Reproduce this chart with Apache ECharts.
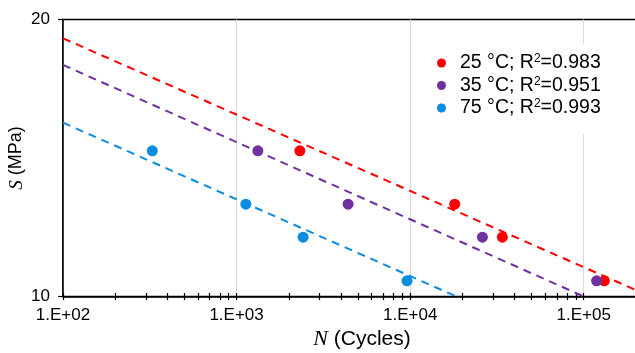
<!DOCTYPE html>
<html>
<head>
<meta charset="utf-8">
<script src="https://cdn.jsdelivr.net/npm/echarts@6/dist/echarts.min.js"></script>
<style>
  html, body { margin: 0; padding: 0; background: #fff; }
  #main { width: 635px; height: 353px; }
</style>
</head>
<body>
<div id="main"></div>
<script>
// series names
const names = ['25 °C; R²=0.983', '35 °C; R²=0.951', '75 °C; R²=0.993'];
const colors = ['#FF0000', '#7030A0', '#0A8CE0'];

// measured points: N (cycles), S (MPa)
const n25 = [2314, 18060, 33970, 131400];
const s25 = [14.4, 12.6, 11.6, 10.4];
const n35 = [1326, 4390, 26080, 118600];
const s35 = [14.4, 12.6, 11.6, 10.4];
const n75 = [327, 1131, 2417, 9594];
const s75 = [14.4, 12.6, 11.6, 10.4];

// power-law trend lines, endpoints [N, S]
const trend25 = [[100, 19.08], [200000, 10.16]];
const trend35 = [[100, 17.85], [100000, 10]];
const trend75 = [[100, 15.45], [18470, 10]];

// axis ticks
const xMajor = [100, 1000, 10000, 100000];
const xMinor = [100, 200, 300, 400, 500, 600, 700, 800, 900,
  1000, 2000, 3000, 4000, 5000, 6000, 7000, 8000, 9000,
  10000, 20000, 30000, 40000, 50000, 60000, 70000, 80000, 90000,
  100000, 200000];
const yTicks = [10, 20];

const pts = (n, s) => n.map((v, i) => [v, s[i]]);
const scatterData = [pts(n25, s25), pts(n35, s35), pts(n75, s75)];
const trends = [trend25, trend35, trend75];

const font = 'Liberation Sans, Arial, sans-serif';
const serif = 'Liberation Serif, Times New Roman, serif';
const chart = echarts.init(document.getElementById('main'));

const xBase = {
  type: 'log',
  logBase: 10,
  min: 100,
  max: 200000,
  position: 'bottom'
};
// extra axes only carry the crossing minor ticks
const tickAxis = inside => Object.assign({}, xBase, {
  axisLine: { show: false },
  axisTick: { inside: inside, customValues: xMinor, length: 3.5, lineStyle: { color: '#000', width: 1.2 } },
  axisLabel: { show: false },
  splitLine: { show: false }
});

chart.setOption({
  animation: false,
  grid: {
    left: 63, top: 19.5, width: 573, height: 277,
    outerBoundsMode: 'none',
    containLabel: false,
    show: true, borderColor: '#000', borderWidth: 1.5
  },
  legend: {
    data: names,
    orient: 'vertical',
    left: 427,
    top: 44,
    padding: [9, 10, 16, 10],
    backgroundColor: '#fff',
    icon: 'circle',
    itemWidth: 9,
    itemHeight: 9,
    itemGap: 2.5,
    formatter: name => name.replace('R²', 'R{sup|2}'),
    textStyle: {
      fontFamily: font, fontSize: 19.5, lineHeight: 20, color: '#000', padding: [0, 0, 0, 9],
      rich: { sup: { fontFamily: font, fontSize: 12, lineHeight: 12, color: '#000', padding: [0, 0, 8, 0] } }
    }
  },
  xAxis: [
    Object.assign({}, xBase, {
      name: '{i|N} (Cycles)',
      nameLocation: 'middle',
      nameGap: 30,
      nameTextStyle: {
        fontFamily: font, fontSize: 21, color: '#000', padding: [0, 0, 0, 25],
        rich: { i: { fontFamily: serif, fontStyle: 'italic', fontSize: 22, color: '#000' } }
      },
      axisLine: { lineStyle: { color: '#000', width: 1.5 } },
      axisTick: { show: false },
      axisLabel: {
        customValues: xMajor,
        margin: 10,
        fontFamily: font, fontSize: 17, color: '#000',
        formatter: v => '1.E+0' + Math.round(Math.log10(v))
      },
      splitLine: { show: true, lineStyle: { color: '#D9D9D9', width: 1 } }
    }),
    tickAxis(true),
    tickAxis(false)
  ],
  yAxis: {
    type: 'log',
    logBase: 10,
    min: 10,
    max: 20,
    name: '{i|S} (MPa)',
    nameLocation: 'middle',
    nameRotate: 90,
    nameGap: 37,
    nameMoveOverlap: false,
    nameTextStyle: {
      fontFamily: font, fontSize: 18, color: '#000', padding: [8, 0, 0, 0],
      rich: { i: { fontFamily: serif, fontStyle: 'italic', fontSize: 19, color: '#000' } }
    },
    axisLine: { show: true, lineStyle: { color: '#000', width: 1.5 } },
    axisTick: { show: true, customValues: yTicks, length: 5, lineStyle: { color: '#000', width: 1.2 } },
    axisLabel: { customValues: yTicks, margin: 13, fontFamily: font, fontSize: 17, color: '#000' },
    splitLine: { show: false }
  },
  series: [
    ...trends.map((d, i) => ({
      name: 'trend ' + i,
      type: 'line',
      data: d,
      showSymbol: false,
      silent: true,
      z: 2,
      lineStyle: { color: colors[i], width: 2, type: [8, 6] }
    })),
    ...scatterData.map((d, i) => ({
      name: names[i],
      type: 'scatter',
      data: d,
      symbolSize: 11,
      z: 3,
      itemStyle: { color: colors[i], opacity: 1 }
    }))
  ]
});
</script>
</body>
</html>
